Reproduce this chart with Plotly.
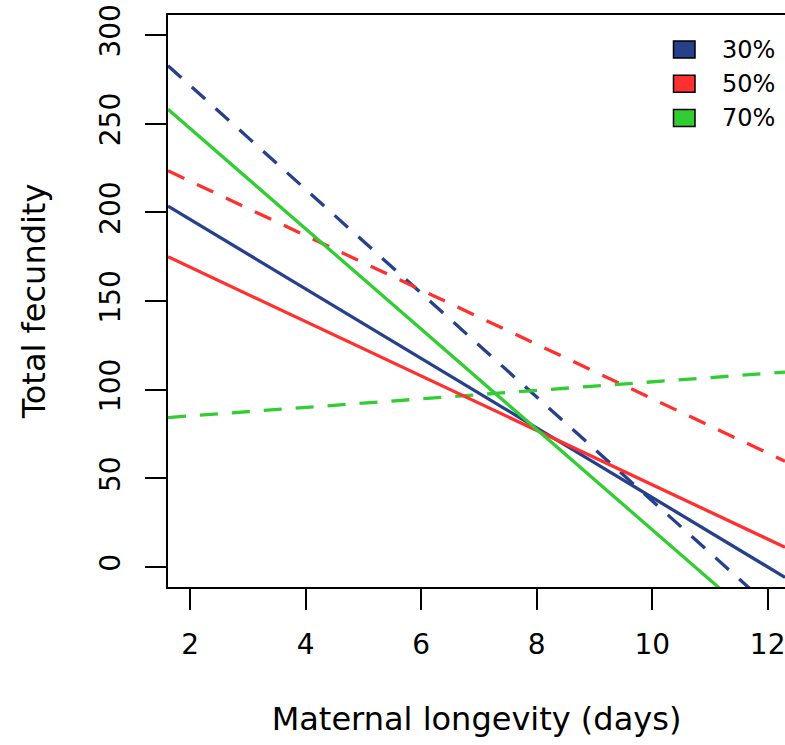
import plotly.graph_objects as go

# ---- data ----
groups = ["30%", "50%", "70%"]
colors = ["#27408B", "#FF3030", "#32CD32"]
# fitted straight lines: fecundity = intercept + slope * longevity
solid_intercept = [235.2, 199.7, 303.8]
solid_slope = [-19.6, -15.33, -28.28]
dashed_intercept = [330.0, 248.2, 80.4]
dashed_slope = [-29.27, -15.33, 2.40]

x_ticks = [2, 4, 6, 8, 10, 12]
y_ticks = [0, 50, 100, 150, 200, 250, 300]

x_range = [1.615, 12.30]
y_range = [-11.3, 311.3]

FONT = "DejaVu Sans"
W, H = 785, 745
ML, MR, MT, MB = 168, 0, 15, 158

fig = go.Figure()
xs = x_range
for g, c, a, b in zip(groups, colors, dashed_intercept, dashed_slope):
    fig.add_trace(go.Scatter(x=xs, y=[a + b * x for x in xs], mode="lines",
                             line=dict(color=c, width=3.3, dash="18px,14px"),
                             name=g + " dashed", showlegend=False, hoverinfo="skip"))
for g, c, a, b in zip(groups, colors, solid_intercept, solid_slope):
    fig.add_trace(go.Scatter(x=xs, y=[a + b * x for x in xs], mode="lines",
                             line=dict(color=c, width=3.3),
                             name=g, showlegend=False, hoverinfo="skip"))

# custom legend (boxes + labels) in pixel-derived paper coordinates
pw, ph = W - ML - MR, H - MT - MB
def px(xp):
    return (xp - ML) / pw
def py(yp):
    return (H - MB - yp) / ph

shapes = []
annotations = []
for i, (g, c) in enumerate(zip(groups, colors)):
    cy = 49.5 + i * 34.2
    shapes.append(dict(type="rect", xref="paper", yref="paper",
                       x0=px(673.5), x1=px(695), y0=py(cy + 8.5), y1=py(cy - 8.5),
                       fillcolor=c, line=dict(color="black", width=1.5)))
    annotations.append(dict(text=g, xref="paper", yref="paper", x=px(720), y=py(cy),
                            xanchor="left", yanchor="middle", showarrow=False,
                            font=dict(family=FONT, size=24, color="black")))

fig.update_layout(
    width=W, height=H,
    margin=dict(l=ML, r=MR, t=MT, b=MB),
    paper_bgcolor="white", plot_bgcolor="white",
    font=dict(family=FONT, color="black"),
    shapes=shapes, annotations=annotations,
    xaxis=dict(range=x_range, tickvals=x_ticks, ticktext=[str(v) for v in x_ticks],
               showgrid=False, zeroline=False, showline=True, mirror=True,
               linecolor="black", linewidth=2, ticks="outside", ticklen=21,
               tickwidth=2, tickcolor="black", tickfont=dict(size=28, family=FONT),
               ticklabelstandoff=10, ticklabeloverflow="allow",
               title=dict(text="Maternal longevity (days)", font=dict(size=32, family=FONT),
                          standoff=48)),
    yaxis=dict(range=y_range, tickvals=y_ticks, ticktext=[str(v) for v in y_ticks],
               showgrid=False, zeroline=False, showline=True, mirror=False,
               linecolor="black", linewidth=2, ticks="outside", ticklen=21,
               tickwidth=2, tickcolor="black", tickfont=dict(size=28, family=FONT),
               tickangle=-90, ticklabelstandoff=14, ticklabeloverflow="allow",
               title=dict(text="Total fecundity", font=dict(size=32, family=FONT),
                          standoff=39)),
)

fig.write_html("out.html")
